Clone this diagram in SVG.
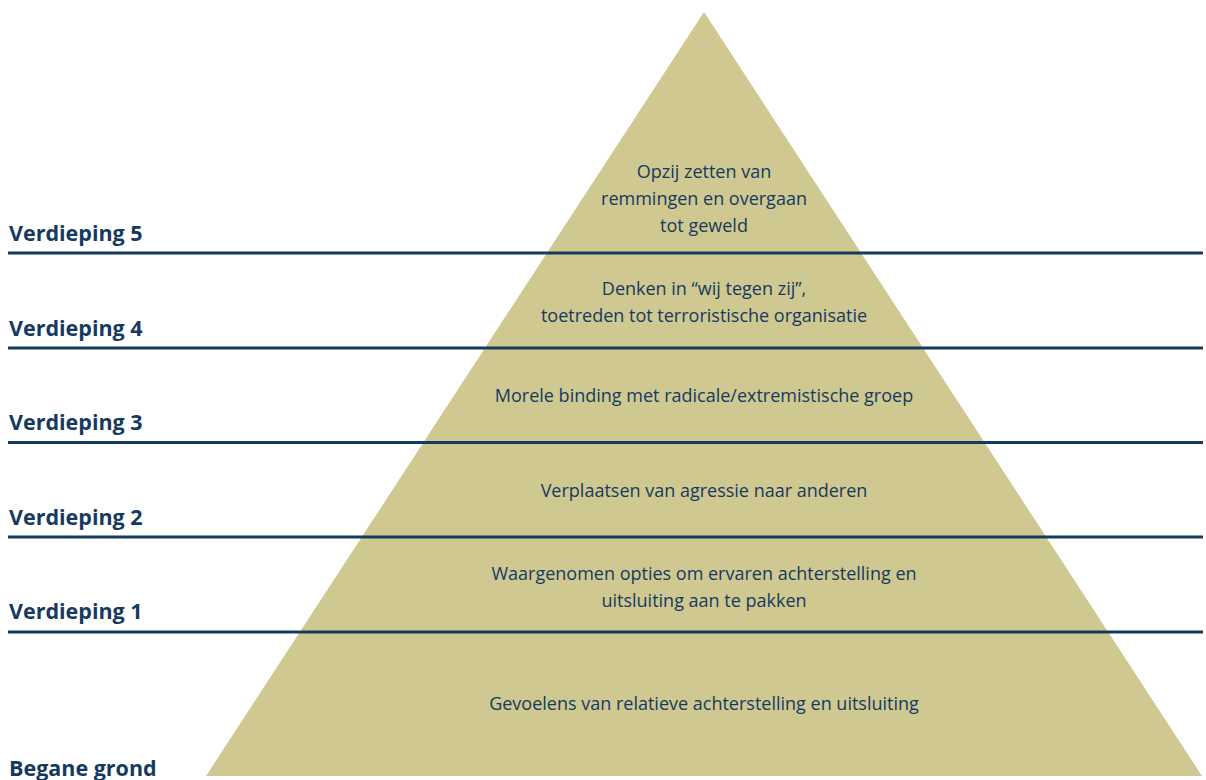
<svg xmlns="http://www.w3.org/2000/svg" width="1206" height="780" viewBox="0 0 1206 780">
<style>
.lbl{font-family:"Open Sans","Noto Sans",sans-serif;font-weight:700;font-size:21.5px;fill:#163a5f}
.txt{font-family:"Open Sans","Noto Sans",sans-serif;font-size:18px;fill:#163a5f;text-anchor:middle}
.ln{stroke:#163a5f;stroke-width:3;fill:none}
</style>
<rect width="1206" height="780" fill="#ffffff"/>
<g id="pyramid"><polygon points="704,12 1202,776 206,776" fill="#cfc891"/></g>
<g id="connectors">
<line class="ln" x1="8" y1="253" x2="1203" y2="253"/>
<line class="ln" x1="8" y1="348" x2="1203" y2="348"/>
<line class="ln" x1="8" y1="442.5" x2="1203" y2="442.5"/>
<line class="ln" x1="8" y1="537" x2="1203" y2="537"/>
<line class="ln" x1="8" y1="632" x2="1203" y2="632"/>
</g>
<g id="level5"><text class="lbl" x="9" y="241">Verdieping 5</text>
<text class="txt" x="704" y="178">Opzij zetten van</text>
<text class="txt" x="704" y="205">remmingen en overgaan</text>
<text class="txt" x="704" y="232">tot geweld</text></g>
<g id="level4"><text class="lbl" x="9" y="336">Verdieping 4</text>
<text class="txt" x="704" y="295">Denken in “wij tegen zij”,</text>
<text class="txt" x="704" y="322">toetreden tot terroristische organisatie</text></g>
<g id="level3"><text class="lbl" x="9" y="430">Verdieping 3</text>
<text class="txt" x="704" y="402">Morele binding met radicale/extremistische groep</text></g>
<g id="level2"><text class="lbl" x="9" y="525">Verdieping 2</text>
<text class="txt" x="704" y="497">Verplaatsen van agressie naar anderen</text></g>
<g id="level1"><text class="lbl" x="9" y="619">Verdieping 1</text>
<text class="txt" x="704" y="580">Waargenomen opties om ervaren achterstelling en</text>
<text class="txt" x="704" y="607">uitsluiting aan te pakken</text></g>
<g id="ground"><text class="lbl" x="9" y="776">Begane grond</text>
<text class="txt" x="704" y="710">Gevoelens van relatieve achterstelling en uitsluiting</text></g>
</svg>
